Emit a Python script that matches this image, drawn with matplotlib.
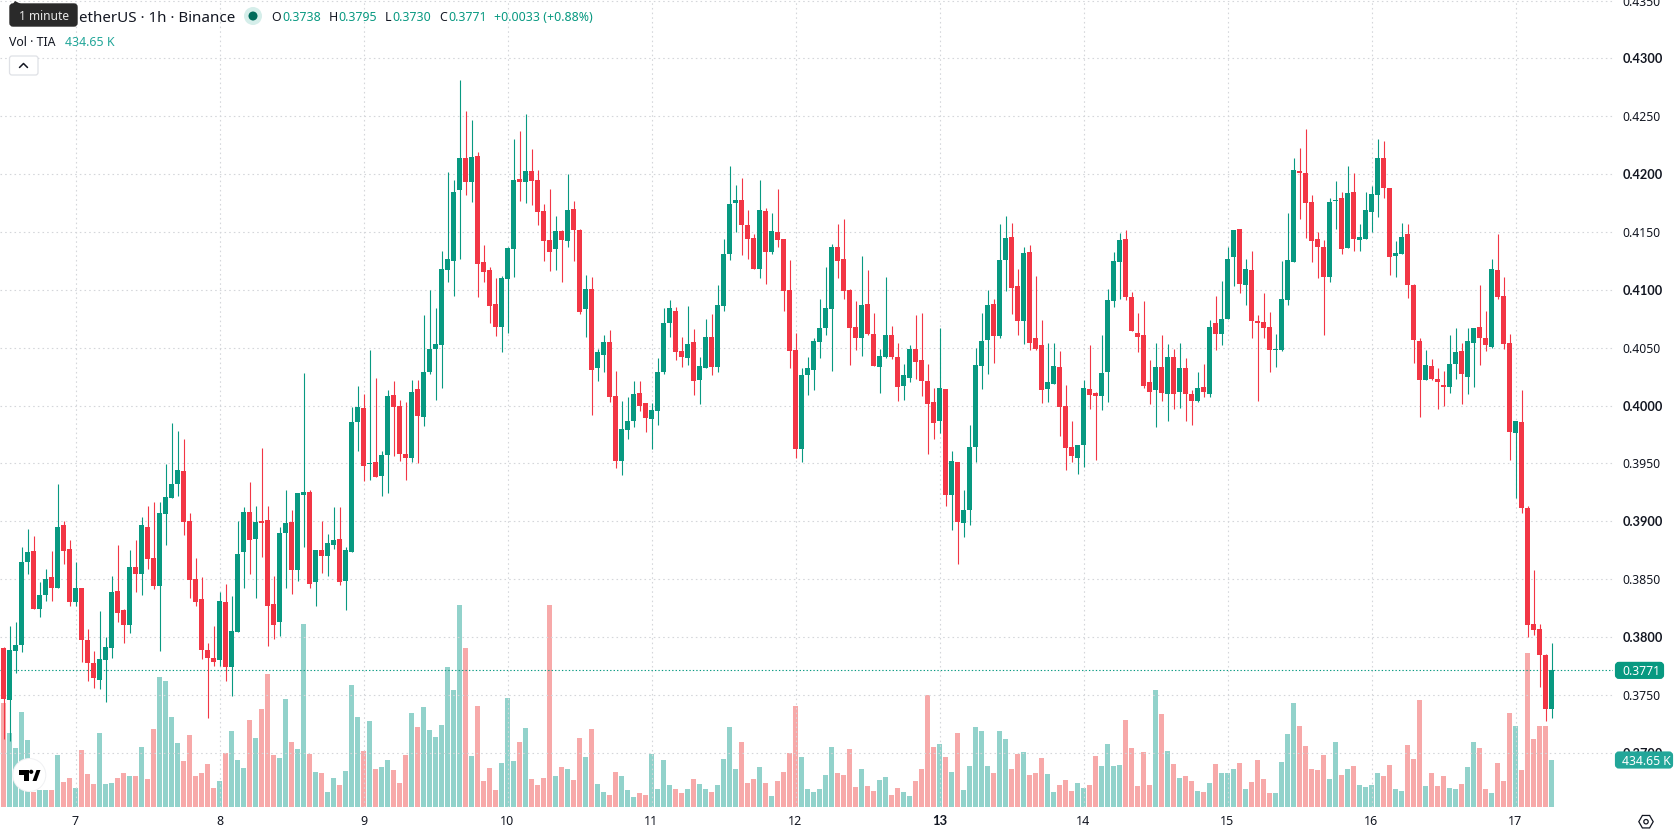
import numpy as np
import matplotlib
matplotlib.use('Agg')
import matplotlib.pyplot as plt
from matplotlib.patches import Circle, FancyBboxPatch, Polygon, RegularPolygon

# prices are stored in units of 0.0001, volume in thousands of TIA
opens = [3790, 3745, 3788, 3793, 3865, 3874, 3824, 3836, 3852, 3842,
         3897, 3876, 3830, 3842, 3797, 3777, 3763, 3780, 3790, 3840,
         3823, 3810, 3860, 3854, 3895, 3868, 3844, 3906, 3920, 3932,
         3943, 3900, 3850, 3833, 3789, 3782, 3780, 3830, 3774, 3804,
         3873, 3908, 3885, 3900, 3901, 3828, 3813, 3890, 3899, 3858,
         3923, 3925, 3847, 3875, 3870, 3879, 3885, 3848, 3873, 3986,
         3998, 3949, 3951, 3939, 3957, 4009, 4000, 3958, 3955, 4014,
         3990, 4029, 4049, 4052, 4117, 4125, 4186, 4214, 4193, 4216,
         4124, 4117, 4088, 4068, 4109, 4135, 4196, 4193, 4203, 4195,
         4168, 4143, 4135, 4151, 4142, 4170, 4152, 4083, 4101, 4032,
         4044, 4055, 4008, 3952, 3979, 3987, 4011, 4002, 3988, 3995,
         4029, 4071, 4082, 4047, 4041, 4055, 4022, 4032, 4059, 4033,
         4086, 4131, 4175, 4178, 4156, 4145, 4118, 4168, 4133, 4150,
         4144, 4100, 4048, 3962, 4026, 4031, 4055, 4067, 4083, 4137,
         4127, 4100, 4068, 4058, 4088, 4062, 4033, 4042, 4061, 4042,
         4017, 4024, 4049, 4039, 4021, 4003, 3987, 4014, 3923, 3951,
         3898, 3910, 3964, 4034, 4057, 4088, 4060, 4126, 4146, 4103,
         4073, 4133, 4058, 4052, 4014, 4019, 4033, 4000, 3964, 3955,
         3966, 4014, 4011, 4008, 4029, 4090, 4124, 4144, 4094, 4063,
         4061, 4020, 4013, 4033, 4010, 4042, 4012, 4032, 4010, 4004,
         4016, 4010, 4071, 4062, 4075, 4128, 4153, 4104, 4117, 4073,
         4072, 4068, 4048, 4048, 4091, 4124, 4203, 4201, 4176, 4144,
         4137, 4111, 4177, 4179, 4136, 4185, 4143, 4144, 4167, 4182,
         4214, 4188, 4129, 4131, 4148, 4104, 4056, 4022, 4034, 4023,
         4018, 4016, 4036, 4047, 4025, 4054, 4068, 4058, 4051, 4117,
         4095, 4054, 3976, 3986, 3911, 3811, 3807, 3784, 3738]
closes = [3746, 3789, 3793, 3865, 3873, 3824, 3836, 3850, 3842, 3895,
          3874, 3830, 3842, 3797, 3777, 3764, 3781, 3791, 3839, 3821,
          3810, 3860, 3854, 3897, 3867, 3844, 3907, 3921, 3932, 3944,
          3899, 3849, 3830, 3789, 3782, 3778, 3831, 3774, 3805, 3872,
          3908, 3884, 3899, 3898, 3827, 3810, 3890, 3898, 3858, 3924,
          3925, 3846, 3875, 3870, 3881, 3884, 3847, 3875, 3986, 3999,
          3948, 3950, 3938, 3957, 4008, 3999, 3958, 3955, 4012, 3991,
          4029, 4049, 4053, 4118, 4127, 4185, 4214, 4193, 4215, 4122,
          4115, 4086, 4068, 4110, 4136, 4195, 4193, 4203, 4194, 4167,
          4142, 4133, 4151, 4143, 4169, 4152, 4081, 4101, 4031, 4046,
          4055, 4007, 3952, 3980, 3987, 4010, 4000, 3989, 3996, 4029,
          4071, 4084, 4046, 4042, 4053, 4021, 4034, 4059, 4033, 4087,
          4131, 4174, 4178, 4156, 4144, 4118, 4169, 4133, 4151, 4143,
          4099, 4047, 3962, 4026, 4032, 4056, 4067, 4084, 4137, 4125,
          4099, 4067, 4058, 4087, 4062, 4034, 4043, 4061, 4042, 4016,
          4026, 4049, 4038, 4021, 4001, 3985, 4015, 3923, 3952, 3899,
          3910, 3964, 4035, 4056, 4087, 4060, 4126, 4145, 4102, 4073,
          4132, 4054, 4049, 4013, 4020, 4034, 3999, 3963, 3956, 3966,
          4015, 4009, 4008, 4028, 4091, 4125, 4143, 4094, 4064, 4059,
          4017, 4012, 4033, 4011, 4042, 4010, 4032, 4010, 4004, 4015,
          4012, 4068, 4062, 4075, 4127, 4152, 4105, 4118, 4073, 4071,
          4067, 4048, 4049, 4092, 4126, 4204, 4201, 4175, 4142, 4137,
          4111, 4176, 4178, 4135, 4184, 4144, 4146, 4169, 4183, 4214,
          4188, 4128, 4132, 4146, 4104, 4057, 4022, 4035, 4023, 4020,
          4016, 4036, 4046, 4027, 4056, 4067, 4058, 4052, 4118, 4094,
          4053, 3977, 3987, 3911, 3810, 3806, 3784, 3738, 3771]
highs = [3791, 3809, 3813, 3878, 3893, 3887, 3847, 3859, 3874, 3932,
         3900, 3884, 3865, 3842, 3807, 3788, 3822, 3800, 3853, 3879,
         3824, 3875, 3884, 3904, 3913, 3917, 3917, 3949, 3985, 3978,
         3971, 3907, 3868, 3852, 3795, 3809, 3839, 3846, 3835, 3900,
         3912, 3934, 3913, 3963, 3913, 3853, 3895, 3927, 3910, 3924,
         4028, 3927, 3875, 3900, 3889, 3912, 3912, 3878, 3999, 4017,
         4010, 4048, 4024, 3961, 4013, 4021, 4005, 4003, 4022, 4022,
         4078, 4100, 4084, 4134, 4202, 4195, 4281, 4255, 4247, 4219,
         4139, 4120, 4110, 4112, 4137, 4230, 4237, 4252, 4222, 4204,
         4174, 4187, 4164, 4152, 4200, 4177, 4153, 4113, 4111, 4049,
         4061, 4065, 4030, 4004, 4007, 4021, 4021, 4002, 4002, 4041,
         4084, 4091, 4085, 4059, 4086, 4066, 4042, 4075, 4079, 4104,
         4144, 4207, 4191, 4197, 4169, 4148, 4195, 4171, 4166, 4187,
         4144, 4126, 4063, 4032, 4042, 4058, 4092, 4120, 4140, 4157,
         4161, 4101, 4090, 4129, 4117, 4080, 4049, 4111, 4069, 4054,
         4036, 4052, 4078, 4080, 4036, 4015, 4067, 4014, 3961, 3951,
         3927, 3983, 4050, 4080, 4100, 4092, 4157, 4164, 4158, 4118,
         4137, 4139, 4112, 4074, 4054, 4054, 4047, 4018, 3987, 3966,
         4022, 4052, 4012, 4061, 4101, 4133, 4149, 4152, 4098, 4080,
         4090, 4039, 4054, 4061, 4053, 4049, 4054, 4041, 4013, 4029,
         4036, 4074, 4095, 4108, 4137, 4152, 4153, 4127, 4134, 4078,
         4097, 4081, 4062, 4125, 4166, 4214, 4223, 4239, 4182, 4150,
         4143, 4179, 4194, 4185, 4207, 4201, 4157, 4185, 4190, 4230,
         4229, 4188, 4142, 4158, 4157, 4105, 4058, 4048, 4040, 4032,
         4030, 4061, 4067, 4054, 4067, 4067, 4104, 4082, 4127, 4148,
         4111, 4062, 3987, 4013, 3913, 3858, 3811, 3785, 3795]
lows = [3712, 3710, 3769, 3787, 3854, 3824, 3817, 3831, 3831, 3842,
        3863, 3827, 3827, 3778, 3762, 3756, 3755, 3744, 3782, 3813,
        3795, 3803, 3839, 3836, 3859, 3841, 3788, 3879, 3920, 3922,
        3888, 3834, 3827, 3781, 3730, 3775, 3775, 3762, 3749, 3804,
        3842, 3854, 3834, 3869, 3792, 3798, 3801, 3842, 3837, 3848,
        3878, 3842, 3827, 3855, 3853, 3876, 3845, 3823, 3873, 3961,
        3935, 3936, 3938, 3922, 3924, 3956, 3952, 3936, 3951, 3950,
        3982, 4027, 4005, 4015, 4107, 4095, 4127, 4182, 4176, 4094,
        4107, 4071, 4060, 4046, 4063, 4111, 4177, 4175, 4173, 4156,
        4125, 4116, 4117, 4107, 4137, 4125, 4079, 4059, 3992, 4021,
        4029, 4003, 3946, 3940, 3971, 3981, 3995, 3977, 3962, 3983,
        4027, 4059, 4039, 4033, 4035, 4009, 4001, 4032, 4026, 4029,
        4082, 4126, 4150, 4130, 4127, 4118, 4110, 4105, 4131, 4137,
        4082, 4032, 3955, 3951, 4009, 4013, 4041, 4061, 4030, 4110,
        4092, 4035, 4048, 4043, 4061, 4034, 4011, 4041, 4040, 4004,
        4005, 4020, 4023, 4008, 3958, 3971, 3976, 3913, 3892, 3863,
        3886, 3897, 3951, 4014, 4027, 4037, 4058, 4099, 4079, 4061,
        4053, 4048, 4048, 4002, 4003, 4019, 3974, 3944, 3951, 3941,
        3947, 3997, 3953, 3996, 4003, 4085, 4092, 4091, 4064, 4046,
        4015, 4001, 3981, 4004, 3987, 3997, 3998, 3987, 3983, 4003,
        4007, 4007, 4048, 4052, 4075, 4103, 4097, 4087, 4058, 4004,
        4058, 4029, 4033, 4047, 4087, 4124, 4161, 4145, 4124, 4110,
        4061, 4107, 4153, 4131, 4136, 4134, 4134, 4144, 4150, 4163,
        4179, 4113, 4111, 4131, 4093, 4037, 3990, 4022, 4022, 3997,
        4000, 4011, 4023, 4001, 4010, 4016, 4035, 4047, 4050, 4092,
        4049, 3953, 3920, 3907, 3800, 3802, 3757, 3727, 3730]
volumes = [962, 684, 546, 879, 620, 142, 157, 157, 157, 481,
           231, 268, 176, 527, 305, 213, 684, 213, 222, 268,
           314, 287, 287, 555, 259, 721, 1202, 1165, 832, 592,
           425, 666, 287, 314, 398, 176, 240, 499, 703, 435,
           361, 805, 638, 906, 1230, 481, 453, 999, 601, 536,
           1693, 490, 324, 314, 139, 268, 203, 333, 1128, 832,
           518, 795, 351, 370, 435, 342, 222, 481, 869, 740,
           925, 712, 647, 758, 1295, 1082, 1868, 1471, 472, 934,
           240, 361, 157, 407, 1008, 425, 601, 731, 259, 203,
           268, 1868, 287, 370, 351, 250, 638, 462, 721, 213,
           139, 111, 324, 287, 157, 92, 129, 111, 490, 166,
           435, 203, 166, 129, 166, 259, 213, 166, 139, 203,
           444, 740, 351, 601, 222, 259, 370, 222, 102, 240,
           324, 499, 934, 462, 166, 139, 166, 296, 555, 314,
           296, 536, 185, 351, 194, 148, 250, 277, 111, 176,
           139, 102, 240, 351, 1036, 555, 583, 462, 324, 684,
           157, 379, 740, 703, 379, 314, 703, 629, 351, 490,
           509, 296, 314, 453, 305, 139, 203, 250, 148, 222,
           176, 203, 472, 379, 583, 379, 388, 805, 546, 194,
           509, 203, 1082, 860, 518, 398, 268, 287, 240, 148,
           139, 222, 398, 314, 314, 351, 407, 166, 231, 435,
           259, 129, 129, 416, 675, 962, 749, 564, 351, 342,
           481, 259, 601, 296, 351, 379, 203, 185, 203, 314,
           287, 388, 166, 148, 573, 444, 990, 194, 314, 194,
           287, 176, 166, 213, 370, 601, 546, 166, 129, 407,
           240, 869, 749, 342, 1424, 629, 749, 749, 434.65]

# one tick per day, first bar of the day
day_labels = ['7', '8', '9', '10', '11', '12', '13', '14', '15', '16', '17']
day_bars = [12, 36, 60, 84, 108, 132, 156, 180, 204, 228, 252]
price_ticks = [0.37, 0.375, 0.38, 0.385, 0.39, 0.395, 0.40, 0.405, 0.41, 0.415,
               0.42, 0.425, 0.43, 0.435]

UP = '#089981'
DOWN = '#F23645'
UP_VOL = '#92d2cb'
DOWN_VOL = '#f7a9a9'
GRID = '#d4d6da'
INK = '#131722'

plt.rcParams['font.family'] = ['Noto Sans', 'DejaVu Sans']

W, H = 1678, 835
fig = plt.figure(figsize=(W / 100, H / 100), dpi=100, facecolor='white')

pane_w, pane_h = 1613, 807
ax = fig.add_axes([0, (H - pane_h) / H, pane_w / W, pane_h / H])
ax_vol = ax.twinx()
ax_vol.set_zorder(ax.get_zorder() - 1)
ax.patch.set_visible(False)

o = np.array(opens) / 10000
c = np.array(closes) / 10000
h = np.array(highs) / 10000
l = np.array(lows) / 10000
xs = np.arange(len(o))
is_up = c >= o
colors = np.where(is_up, UP, DOWN)
vol_colors = np.where(is_up, UP_VOL, DOWN_VOL)

ax_vol.bar(xs, volumes, width=5 / 6, color=vol_colors, linewidth=0)
ax_vol.set_ylim(0, 7463)
ax_vol.axis('off')
ax_vol.patch.set_visible(True)

for tick in price_ticks:
    ax.axhline(tick, color=GRID, lw=0.8, ls=(0, (1.4, 2.8)), zorder=1)
for bar in day_bars:
    ax.axvline(bar, color=GRID, lw=0.8, ls=(0, (1.4, 2.8)), zorder=1)
ax.axhline(c[-1], color=UP, lw=0.8, ls=(0, (1.2, 1.9)), zorder=2)

ax.vlines(xs, l, h, colors=colors, lw=0.8, zorder=3, snap=True)
ax.bar(xs, np.abs(c - o), bottom=np.minimum(o, c), width=5 / 6, color=colors,
       linewidth=0, zorder=4)

ax.set_xlim(-3.5 / 6, (pane_w - 3.5) / 6)
ax.set_ylim(0.4 - 401.5 / 11567, 0.4 + 405.5 / 11567)
for spine in ax.spines.values():
    spine.set_visible(False)

ax.yaxis.tick_right()
ax.set_yticks(price_ticks)
ax.set_yticklabels(['%.4f' % t for t in price_ticks])
ax.set_xticks(day_bars)
ax.set_xticklabels(day_labels)
ax.tick_params(axis='y', length=0, pad=7, labelsize=8.8, labelcolor=INK)
ax.tick_params(axis='x', length=0, pad=5.5, labelsize=9, labelcolor=INK)
# Noto Sans has no separate bold cut here, Lato does
for tick, label in zip(price_ticks, ax.get_yticklabels()):
    if round(tick * 10000) % 100 == 0:
        label.set_fontfamily('Lato')
        label.set_fontweight('bold')
        label.set_fontsize(9.2)
for day, label in zip(day_labels, ax.get_xticklabels()):
    if day == '13':
        label.set_fontfamily('Lato')
        label.set_fontweight('bold')
        label.set_fontsize(9.4)

# overlay in pixel coordinates for the legend, tags and toolbar bits
ov = fig.add_axes([0, 0, 1, 1], zorder=10)
ov.set_xlim(0, W)
ov.set_ylim(H, 0)
ov.axis('off')

fig.canvas.draw()
close_y = H - ax.transData.transform((0, c[-1]))[1]
vol_y = H - ax_vol.transData.transform((0, volumes[-1]))[1]


def tag(x0, x1, y, text, color):
    ov.add_patch(FancyBboxPatch((x0 + 2, y - 6.5), x1 - x0 - 4, 13,
                                boxstyle='round,pad=0,rounding_size=2',
                                mutation_aspect=1, fc=color, ec=color, lw=3))
    ov.text(1622, y, text, color='white', fontsize=8.8, ha='left', va='center_baseline')


tag(1615, 1664, close_y, '%.4f' % c[-1], UP)
tag(1615, 1673, vol_y, '434.65 K', '#22a699')

# legend lines
ov.text(235.7, 16, 'etherUS · 1h · Binance', color=INK, fontsize=10.9, ha='right',
        va='center_baseline')
ov.add_patch(Circle((253, 16), 9, fc='#d5eeea', ec='none'))
ov.add_patch(Circle((253, 16), 4.5, fc='#006b5b', ec='none'))
for letter, lx, value, vx in [('O', 271.5, 0.3738, 282.6), ('H', 329, 0.3795, 338.6),
                              ('L', 385, 0.3730, 392.7), ('C', 439, 0.3771, 448)]:
    ov.text(lx, 16, letter, color=INK, fontsize=8.9, ha='left', va='center_baseline')
    ov.text(vx, 16, '%.4f' % value, color=UP, fontsize=8.9, ha='left', va='center_baseline')
ov.text(494, 16, '+0.0033 (+0.88%)', color=UP, fontsize=8.9, ha='left', va='center_baseline')
ov.text(9, 40.5, 'Vol · TIA', color=INK, fontsize=8.9, ha='left', va='center_baseline')
ov.text(64.8, 40.5, '434.65 K', color='#22a699', fontsize=8.9, ha='left', va='center_baseline')

# tooltip
ov.add_patch(FancyBboxPatch((10, 4), 67, 22, boxstyle='round,pad=0,rounding_size=3',
                            fc='#2a2a2a', ec='#2a2a2a', lw=1))
ov.add_patch(Polygon([[10, 8], [15, 1], [21, 4]], closed=True, fc='#2a2a2a', ec='none'))
ov.text(44, 15.5, '1 minute', color='#e8e8e8', fontsize=8.6, ha='center', va='center_baseline')

# collapse button
ov.add_patch(FancyBboxPatch((9.5, 56), 28.5, 19, boxstyle='round,pad=0,rounding_size=2.5',
                            fc='white', ec='#dfe1e6', lw=0.9))
ov.plot([19.5, 23.5, 27.5], [67.5, 63.5, 67.5], color=INK, lw=1.1, solid_capstyle='round')

# logo badge
ov.add_patch(Circle((29.3, 775), 17, fc='#f0f1f3', ec='none'))
ov.add_patch(Circle((29.3, 775), 16, fc='white', ec='none'))
ov.add_patch(Polygon([[19, 770], [29.3, 770], [29.3, 781], [24, 781], [24, 775], [19, 775]],
                     closed=True, fc='black', ec='none'))
ov.add_patch(Circle((31.2, 771.8), 2.1, fc='black', ec='none'))
ov.add_patch(Polygon([[32.5, 781], [36.5, 770], [40.5, 770], [36.5, 781]], closed=True,
                     fc='black', ec='none'))

# settings icon
ov.add_patch(RegularPolygon((1646, 821.7), 6, radius=7.2, orientation=np.pi / 6, fc='white',
                            ec=INK, lw=0.9))
ov.add_patch(Circle((1646, 821.7), 2.2, fc='white', ec=INK, lw=0.9))

fig.savefig('out.png', dpi=100, facecolor='white')
